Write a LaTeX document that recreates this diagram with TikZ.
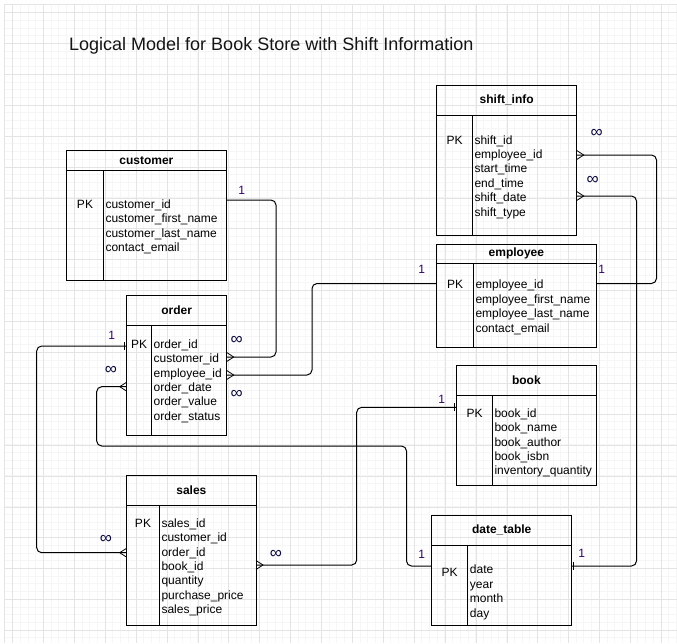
\documentclass[tikz,border=0pt]{standalone}
\usepackage{fontspec}
\setmainfont{Liberation Sans}
\usepackage{tikz}

\definecolor{onecol}{RGB}{51,0,102}
\definecolor{manycol}{RGB}{10,10,60}
\definecolor{gridminor}{RGB}{246,246,246}
\definecolor{gridmajor}{RGB}{228,228,228}
\definecolor{titlecol}{RGB}{20,20,20}

\tikzset{
  tblhead/.style={draw,line width=1pt,inner sep=0pt,outer sep=0pt,anchor=north west,
    font=\bfseries\fontsize{12}{14.4}\selectfont},
  tblbody/.style={draw,line width=1pt,inner sep=0pt,outer sep=0pt,anchor=north},
  fields/.style={anchor=north west,inner sep=0pt,align=left,font=\fontsize{12}{14.4}\selectfont},
  pk/.style={anchor=base,inner sep=0pt,font=\fontsize{12}{14.4}\selectfont},
  link/.style={line width=1pt,rounded corners=5pt},
  onelbl/.style={text=onecol,inner sep=0pt,font=\fontsize{12}{14}\selectfont},
  manylbl/.style={text=manycol,inner sep=0pt,font=\fontsize{17}{17}\selectfont},
  crow/.pic={\draw[line width=0.8pt] (0,-4.5) -- (7,0) -- (0,4.5);},
  onemark/.pic={\draw[line width=1.4pt] (2,-4) -- (2,4);}
}

\begin{document}
\begin{tikzpicture}[x=1pt,y=-1pt]

\useasboundingbox (0,0) rectangle (677,643);
\fill[white] (0,0) rectangle (677,643);
% background grid
\foreach \gx in {4.7,12.42,...,677} \draw[gridminor,line width=0.6pt] (\gx,4.7) -- (\gx,643);
\foreach \gy in {4.7,12.42,...,643} \draw[gridminor,line width=0.6pt] (4.7,\gy) -- (677,\gy);
\foreach \gx in {12.4,43.3,...,677} \draw[gridmajor,line width=0.6pt] (\gx,4.7) -- (\gx,643);
\foreach \gy in {12.4,43.3,...,643} \draw[gridmajor,line width=0.6pt] (4.7,\gy) -- (677,\gy);
\draw[gridmajor,line width=0.6pt] (4.7,643) -- (4.7,4.7) -- (677,4.7);

\node[anchor=west,inner sep=0pt,text=titlecol,font=\fontsize{18}{20}\selectfont] (title) at (69,45.5)
  {Logical Model for Book Store with Shift Information};

% customer
\node[tblhead,minimum width=159.3pt,minimum height=20pt] (customer-h) at (66.7,150.7) {customer};
\node[tblbody,minimum width=159.3pt,minimum height=109.3pt] (customer-b) at (customer-h.south) {};
\draw[line width=1pt] (customer-b.north west) ++(36.6,0) -- ++(0,109.3);
\node[pk] (customer-pk) at (85,208) {PK};
\node[fields] (customer-f) at (105.3,199.3)
  {customer\_id\\customer\_first\_name\\customer\_last\_name\\contact\_email};

% order
\node[tblhead,minimum width=100pt,minimum height=29.3pt] (order-h) at (126.7,295.7) {order};
\node[tblbody,minimum width=100pt,minimum height=110pt] (order-b) at (order-h.south) {};
\draw[line width=1pt] (order-b.north west) ++(25,0) -- ++(0,110);
\node[pk] (order-pk) at (139.2,348) {PK};
\node[fields] (order-f) at (153.5,339.3)
  {order\_id\\customer\_id\\employee\_id\\order\_date\\order\_value\\order\_status};

% shift_info
\node[tblhead,minimum width=140pt,minimum height=29.3pt] (shift-h) at (436.7,85.7) {shift\_info};
\node[tblbody,minimum width=140pt,minimum height=120pt] (shift-b) at (shift-h.south) {};
\draw[line width=1pt] (shift-b.north west) ++(35.6,0) -- ++(0,120);
\node[pk] (shift-pk) at (454.5,144) {PK};
\node[fields] (shift-f) at (474.3,135.3)
  {shift\_id\\employee\_id\\start\_time\\end\_time\\shift\_date\\shift\_type};

% employee
\node[tblhead,minimum width=159.3pt,minimum height=19.3pt] (employee-h) at (436.7,244) {employee};
\node[tblbody,minimum width=159.3pt,minimum height=84pt] (employee-b) at (employee-h.south) {};
\draw[line width=1pt] (employee-b.north west) ++(36.6,0) -- ++(0,84);
\node[pk] (employee-pk) at (455,288.5) {PK};
\node[fields] (employee-f) at (475.3,280)
  {employee\_id\\employee\_first\_name\\employee\_last\_name\\contact\_email};

% book
\node[tblhead,minimum width=139.3pt,minimum height=29.3pt] (book-h) at (456.7,365.7) {book};
\node[tblbody,minimum width=139.3pt,minimum height=90pt] (book-b) at (book-h.south) {};
\draw[line width=1pt] (book-b.north west) ++(35.6,0) -- ++(0,90);
\node[pk] (book-pk) at (474.5,417) {PK};
\node[fields] (book-f) at (494.3,408.3)
  {book\_id\\book\_name\\book\_author\\book\_isbn\\inventory\_quantity};

% sales
\node[tblhead,minimum width=129.3pt,minimum height=29.3pt] (sales-h) at (126.7,475.7) {sales};
\node[tblbody,minimum width=129.3pt,minimum height=120pt] (sales-b) at (sales-h.south) {};
\draw[line width=1pt] (sales-b.north west) ++(32.6,0) -- ++(0,120);
\node[pk] (sales-pk) at (143,527) {PK};
\node[fields] (sales-f) at (161.3,518.3)
  {sales\_id\\customer\_id\\order\_id\\book\_id\\quantity\\purchase\_price\\sales\_price};

% date_table
\node[tblhead,minimum width=140pt,minimum height=29.3pt] (date-h) at (431.7,515.7) {date\_table};
\node[tblbody,minimum width=140pt,minimum height=80pt] (date-b) at (date-h.south) {};
\draw[line width=1pt] (date-b.north west) ++(36,0) -- ++(0,80);
\node[pk] (date-pk) at (449.7,576) {PK};
\node[fields] (date-f) at (469.7,565)
  {date\\year\\month\\day};

% connector ends
\coordinate (cust-id) at (customer-b.east |- 0,200);
\coordinate (ord-id) at (order-b.west |- 0,346);
\coordinate (ord-cust) at (order-b.east |- 0,357);
\coordinate (ord-emp) at (order-b.east |- 0,375);
\coordinate (ord-date) at (order-b.west |- 0,386.7);
\coordinate (shf-emp) at (shift-b.east |- 0,155);
\coordinate (shf-date) at (shift-b.east |- 0,196);
\coordinate (emp-l) at (employee-b.west |- 0,283.5);
\coordinate (emp-r) at (employee-b.east |- 0,283.5);
\coordinate (book-id) at (book-b.west |- 0,407.3);
\coordinate (sal-ord) at (sales-b.west |- 0,552.7);
\coordinate (sal-book) at (sales-b.east |- 0,565);
\coordinate (date-l) at (date-b.west |- 0,566);
\coordinate (date-r) at (date-b.east |- 0,566);

% relations
\draw[link] (cust-id) -- ++(50,0) |- (ord-cust);
\draw[link] (emp-l) -- ++(-124.7,0) |- (ord-emp);
\draw[link] (emp-r) -- ++(60.5,0) |- (shf-emp);
\draw[link] (date-r) -- ++(64.8,0) |- (shf-date);
\draw[link] (ord-id) -- ++(-90,0) |- (sal-ord);
\draw[link] (ord-date) -- ++(-30,0) -- ++(0,59.3) -- ++(309.8,0) |- (date-l);
\draw[link] (book-id) -- ++(-100,0) |- (sal-book);

% cardinality marks
\pic at (ord-cust) {crow};
\pic at (ord-emp) {crow};
\pic at (shf-emp) {crow};
\pic at (shf-date) {crow};
\pic at (sal-book) {crow};
\pic[xscale=-1] at (sal-ord) {crow};
\pic[xscale=-1] at (ord-date) {crow};
\pic[xscale=-1] at (ord-id) {onemark};
\pic[xscale=-1] at (book-id) {onemark};
\pic at (date-r) {onemark};

\node[onelbl] (one-cust) at (241.7,190) {1};
\node[onelbl] (one-empl) at (421.7,269.3) {1};
\node[onelbl] (one-empr) at (601.7,269.3) {1};
\node[onelbl] (one-ord) at (111.7,335) {1};
\node[onelbl] (one-book) at (441.7,399.3) {1};
\node[onelbl] (one-datel) at (421.7,554.3) {1};
\node[onelbl] (one-dater) at (581.7,553.3) {1};

\node[manylbl] (many-ocust) at (236.7,340) {∞};
\node[manylbl] (many-oemp) at (236.7,394) {∞};
\node[manylbl] (many-semp) at (596.7,133.3) {∞};
\node[manylbl] (many-sdate) at (592.7,180) {∞};
\node[manylbl] (many-odate) at (111,370) {∞};
\node[manylbl] (many-sord) at (106,539) {∞};
\node[manylbl] (many-sbook) at (276,554) {∞};

\end{tikzpicture}
\end{document}
